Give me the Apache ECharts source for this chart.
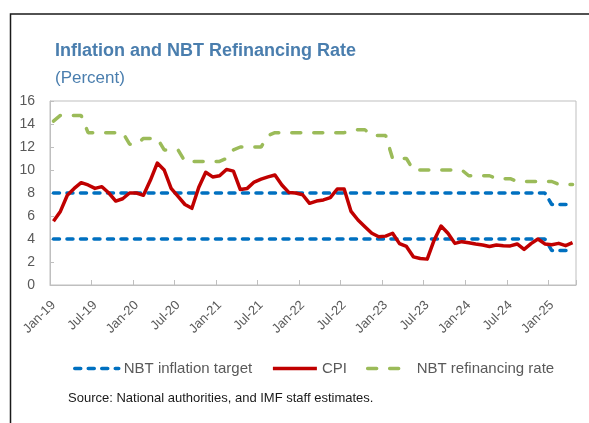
<!DOCTYPE html>
<html>
<head>
<meta charset="utf-8">
<script src="https://cdn.jsdelivr.net/npm/echarts@6.0.0/dist/echarts.min.js"></script>
<style>
html,body{margin:0;padding:0;background:#fff;}
#chart{width:589px;height:423px;}
</style>
</head>
<body>
<div id="chart"></div>
<script>
// month labels, Jan-19 .. Apr-25
var monthNames = ['Jan','Feb','Mar','Apr','May','Jun','Jul','Aug','Sep','Oct','Nov','Dec'];
var years = ['19','20','21','22','23','24','25'];
var lastYearMonths = 4;

// CPI, percent y/y
var cpi = [
    5.55, 6.4, 7.8, 8.4, 8.9, 8.7, 8.4, 8.55, 8.0, 7.3, 7.5, 8.0,
    8.0, 7.8, 9.1, 10.6, 10.0, 8.4, 7.7, 7.0, 6.67, 8.5, 9.8, 9.4,
    9.5, 10.05, 9.9, 8.3, 8.4, 8.95, 9.2, 9.4, 9.57, 8.7, 8.05, 8.0,
    7.85, 7.1, 7.3, 7.4, 7.6, 8.35, 8.35, 6.4, 5.65, 5.07, 4.5, 4.2,
    4.25, 4.5, 3.6, 3.35, 2.45, 2.3, 2.25, 3.9, 5.13, 4.5, 3.62, 3.77,
    3.68, 3.57, 3.48, 3.35, 3.48, 3.42, 3.4, 3.57, 3.1, 3.6, 4.0, 3.57,
    3.5, 3.62, 3.42, 3.68
];
// NBT refinancing rate
var refiRate = [
    14.25, 14.75, 14.75, 14.75, 14.75, 13.25, 13.25, 13.25, 13.25, 13.25, 13.25, 12.25,
    12.25, 12.75, 12.75, 12.75, 11.75, 11.75, 11.75, 10.75, 10.75, 10.75, 10.75, 10.75,
    10.75, 11.0, 11.75, 12.0, 12.0, 12.0, 12.0, 13.0, 13.25, 13.25, 13.25, 13.25,
    13.25, 13.25, 13.25, 13.25, 13.25, 13.25, 13.25, 13.4, 13.5, 13.5, 13.0, 13.0,
    13.0, 11.0, 11.0, 11.0, 10.0, 10.0, 10.0, 10.0, 10.0, 10.0, 10.0, 10.0,
    9.5, 9.5, 9.5, 9.5, 9.25, 9.25, 9.25, 9.0, 9.0, 9.0, 9.0, 9.0,
    9.0, 8.75, 8.75, 8.75
];
// inflation target band (upper / lower)
var targetUpper = [
    8, 8, 8, 8, 8, 8, 8, 8, 8, 8, 8, 8,
    8, 8, 8, 8, 8, 8, 8, 8, 8, 8, 8, 8,
    8, 8, 8, 8, 8, 8, 8, 8, 8, 8, 8, 8,
    8, 8, 8, 8, 8, 8, 8, 8, 8, 8, 8, 8,
    8, 8, 8, 8, 8, 8, 8, 8, 8, 8, 8, 8,
    8, 8, 8, 8, 8, 8, 8, 8, 8, 8, 8, 8,
    7, 7, 7, 7
];
var targetLower = [
    4, 4, 4, 4, 4, 4, 4, 4, 4, 4, 4, 4,
    4, 4, 4, 4, 4, 4, 4, 4, 4, 4, 4, 4,
    4, 4, 4, 4, 4, 4, 4, 4, 4, 4, 4, 4,
    4, 4, 4, 4, 4, 4, 4, 4, 4, 4, 4, 4,
    4, 4, 4, 4, 4, 4, 4, 4, 4, 4, 4, 4,
    4, 4, 4, 4, 4, 4, 4, 4, 4, 4, 4, 4,
    3, 3, 3, 3
];

var categories = [];
for (var y = 0; y < years.length; y++) {
    var n = (y == years.length - 1) ? lastYearMonths : 12;
    for (var m = 0; m < n; m++) {
        categories.push(monthNames[m] + '-' + years[y]);
    }
}

var font = 'Liberation Sans, Arial, sans-serif';
var grey = '#595959';
var frame = '#bfbfbf';

var mychart = echarts.init(document.getElementById('chart'));
var option = {
    animation: false,
    backgroundColor: '#fff',
    title: [
        {
            text: 'Inflation and NBT Refinancing Rate',
            left: 55, top: 42, padding: 0,
            textStyle: {fontFamily: font, fontSize: 18, fontWeight: 'bold', color: '#4a7eae'}
        },
        {
            text: '(Percent)',
            left: 55, top: 70, padding: 0,
            textStyle: {fontFamily: font, fontSize: 17, fontWeight: 'normal', color: '#4a7eae'}
        }
    ],
    legend: {
        left: 73, top: 361, padding: 0,
        itemWidth: 44, itemHeight: 14, itemGap: 19,
        data: ['NBT inflation target', 'CPI', 'NBT refinancing rate'],
        itemStyle: {opacity: 0},
        lineStyle: {width: 3.5},
        textStyle: {fontFamily: font, fontSize: 15, color: grey}
    },
    grid: {
        left: 50, right: 13, top: 101, bottom: 138,
        show: true, borderColor: frame, borderWidth: 1
    },
    xAxis: {
        type: 'category',
        data: categories,
        boundaryGap: true,
        axisLine: {lineStyle: {color: frame, width: 1}},
        axisTick: {show: true, inside: true, length: 5, interval: 5, lineStyle: {color: frame}},
        axisLabel: {interval: 5, rotate: 45, margin: 18, fontFamily: font, fontSize: 13, color: grey},
        splitLine: {show: false}
    },
    yAxis: {
        type: 'value',
        min: 0, max: 16, interval: 2,
        axisLine: {show: true, lineStyle: {color: frame, width: 1}},
        axisTick: {show: true, inside: true, length: 4, lineStyle: {color: frame}},
        axisLabel: {margin: 15, fontFamily: font, fontSize: 14, color: grey},
        splitLine: {show: false}
    },
    series: [
        {
            name: 'NBT inflation target', type: 'line', data: targetUpper,
            symbol: 'none', z: 2,
            lineStyle: {color: '#0070c0', width: 3.5, type: [6, 7.5], cap: 'round'},
            itemStyle: {color: '#0070c0'}
        },
        {
            name: 'NBT inflation target', type: 'line', data: targetLower,
            symbol: 'none', z: 2,
            lineStyle: {color: '#0070c0', width: 3.5, type: [6, 7.5], cap: 'round'},
            itemStyle: {color: '#0070c0'}
        },
        {
            name: 'CPI', type: 'line', data: cpi,
            symbol: 'none', z: 3,
            lineStyle: {color: '#c00000', width: 3.5, join: 'round'},
            itemStyle: {color: '#c00000'}
        },
        {
            name: 'NBT refinancing rate', type: 'line', data: refiRate,
            symbol: 'none', z: 3,
            lineStyle: {color: '#9bbb59', width: 3.5, type: [9, 13], cap: 'round'},
            itemStyle: {color: '#9bbb59'}
        }
    ],
    graphic: [
        {   // outer frame, top and left only
            type: 'polyline', silent: true,
            shape: {points: [[589, 14], [10.5, 14], [10.5, 423]]},
            style: {stroke: '#1a1a1a', lineWidth: 1.5, fill: null}
        },
        {
            type: 'text', left: 68, top: 392,
            style: {text: 'Source: National authorities, and IMF staff estimates.', font: '13px ' + font, fill: '#1a1a1a'}
        }
    ]
};
mychart.setOption(option);
</script>
</body>
</html>
